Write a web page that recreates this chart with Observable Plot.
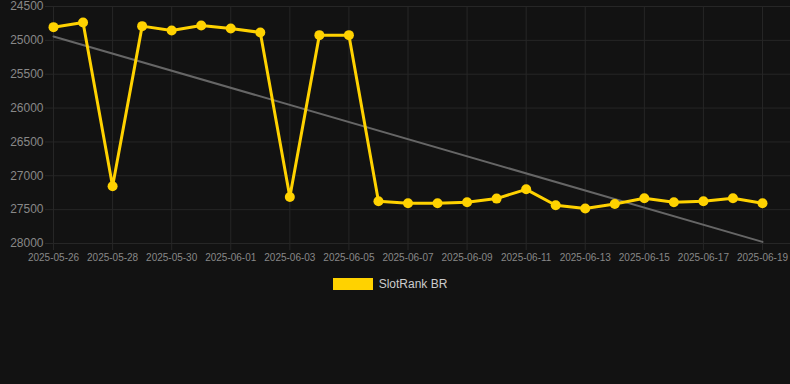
<!DOCTYPE html>
<html>
<head>
<meta charset="utf-8">
<script src="https://cdn.jsdelivr.net/npm/d3@7"></script>
<script src="https://cdn.jsdelivr.net/npm/@observablehq/plot@0.6"></script>
<style>
  html, body { margin: 0; padding: 0; background: #121212; }
  body { width: 790px; height: 384px; overflow: hidden; font-family: "Liberation Sans", Arial, sans-serif; }
  #legend { display: flex; justify-content: center; align-items: center; margin-top: 8px; height: 12px; transform: translateX(-5px); }
  #legend .sw { width: 40px; height: 12px; background: #ffd200; margin-right: 6px; }
  #legend .lb { color: #cccccc; font-size: 12px; }
</style>
</head>
<body>
<div id="chart"></div>
<div id="legend"><div class="sw"></div><div class="lb">SlotRank BR</div></div>
<script>
const dates = ["2025-05-26","2025-05-27","2025-05-28","2025-05-29","2025-05-30","2025-05-31","2025-06-01","2025-06-02","2025-06-03","2025-06-04","2025-06-05","2025-06-06","2025-06-07","2025-06-08","2025-06-09","2025-06-10","2025-06-11","2025-06-12","2025-06-13","2025-06-14","2025-06-15","2025-06-16","2025-06-17","2025-06-18","2025-06-19"];
const ranks = [24805,24736,27155,24790,24854,24780,24825,24883,27312,24923,24923,27376,27405,27405,27390,27337,27200,27435,27484,27416,27332,27390,27376,27332,27405];
const trendDates = ["2025-05-26","2025-06-19"];
const trendValues = [24942,27976];
const yTicks = [24500,25000,25500,26000,26500,27000,27500,28000];
const xTickLabels = ["2025-05-26","2025-05-28","2025-05-30","2025-06-01","2025-06-03","2025-06-05","2025-06-07","2025-06-09","2025-06-11","2025-06-13","2025-06-15","2025-06-17","2025-06-19"];

const parse = d3.utcParse("%Y-%m-%d");
const fmt = d3.utcFormat("%Y-%m-%d");
const data = dates.map((d, i) => ({date: parse(d), rank: ranks[i]}));
const trend = trendDates.map((d, i) => ({date: parse(d), rank: trendValues[i]}));
const xTicks = xTickLabels.map(parse);
const day = 864e5;
const x0 = new Date(+parse(dates[0]) - 0.271 * day);
const x1 = new Date(+parse(dates[dates.length - 1]) + 0.948 * day);

const grid = "#262626";
const chart = Plot.plot({
  width: 790,
  height: 270,
  marginLeft: 45,
  marginRight: 0,
  marginTop: 6,
  marginBottom: 27,
  style: {background: "#121212", fontFamily: "Liberation Sans, Arial, sans-serif", overflow: "visible"},
  x: {type: "utc", domain: [x0, x1], label: null},
  y: {domain: [24500, 28000], reverse: true, label: null},
  marks: [
    Plot.gridY(yTicks, {stroke: grid, strokeOpacity: 1, strokeWidth: 1}),
    Plot.gridX(xTicks, {stroke: grid, strokeOpacity: 1, strokeWidth: 1}),
    Plot.axisY(yTicks, {tickSize: 0, tickPadding: 2, fontSize: 12, fill: "#888888", label: null, tickFormat: d => String(d)}),
    Plot.axisX(xTicks, {tickSize: 7, stroke: grid, tickPadding: 3, fontSize: 10, fill: "#888888", label: null, tickFormat: fmt}),
    Plot.line(trend, {x: "date", y: "rank", stroke: "#666666", strokeWidth: 2}),
    Plot.line(data, {x: "date", y: "rank", stroke: "#ffd200", strokeWidth: 3, curve: "linear"}),
    Plot.dot(data, {x: "date", y: "rank", r: 5, fill: "#ffd200", stroke: "none"})
  ]
});
document.getElementById("chart").appendChild(chart);
</script>
</body>
</html>
